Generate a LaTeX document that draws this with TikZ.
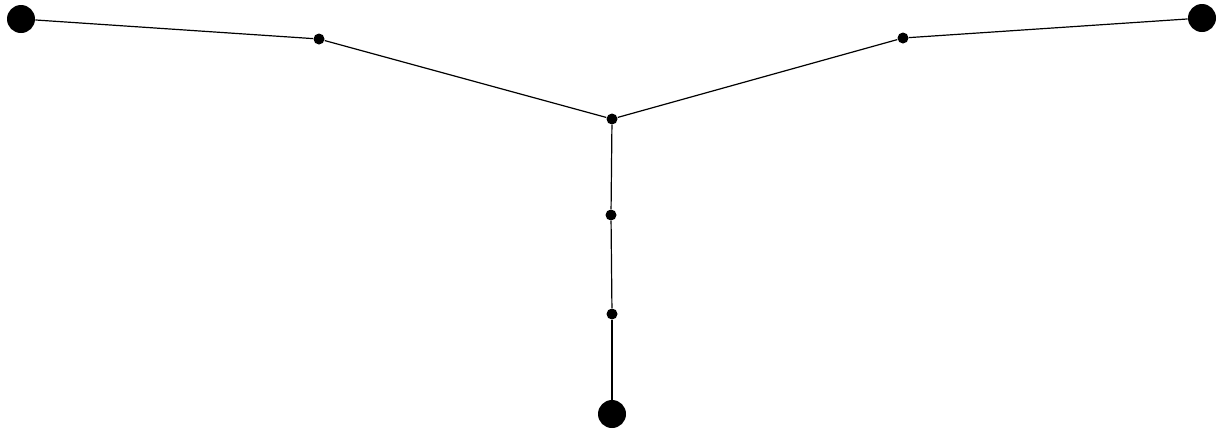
\documentclass[tikz,border=0pt]{standalone}
\usetikzlibrary{positioning}

\begin{document}
\begin{tikzpicture}[x=0.5pt,y=-0.5pt,
  endpt/.style={circle,fill=black,minimum size=14pt,inner sep=0pt},
  joint/.style={circle,fill=black,minimum size=5.5pt,inner sep=0pt},
  edge/.style={line width=0.6pt}]
  \useasboundingbox (0,0) rectangle (1226,430);
  % outer ends
  \node[endpt] (L) at (21,19) {};
  \node[endpt] (R) at (1202,18) {};
  \node[endpt] (B) at (612,414) {};
  % inner joints
  \node[joint] (c) at (612,119) {};
  \node[joint] (l1) at (319,39) {};
  \node[joint] (r1) at (903,38) {};
  \node[joint] (b1) at (611,215) {};
  \node[joint] (b2) at (612,314) {};
  % edges
  \foreach \a/\b in {L/l1,l1/c,c/r1,r1/R,c/b1,b1/b2,b2/B} { \draw[edge] (\a) -- (\b); }
\end{tikzpicture}
\end{document}
